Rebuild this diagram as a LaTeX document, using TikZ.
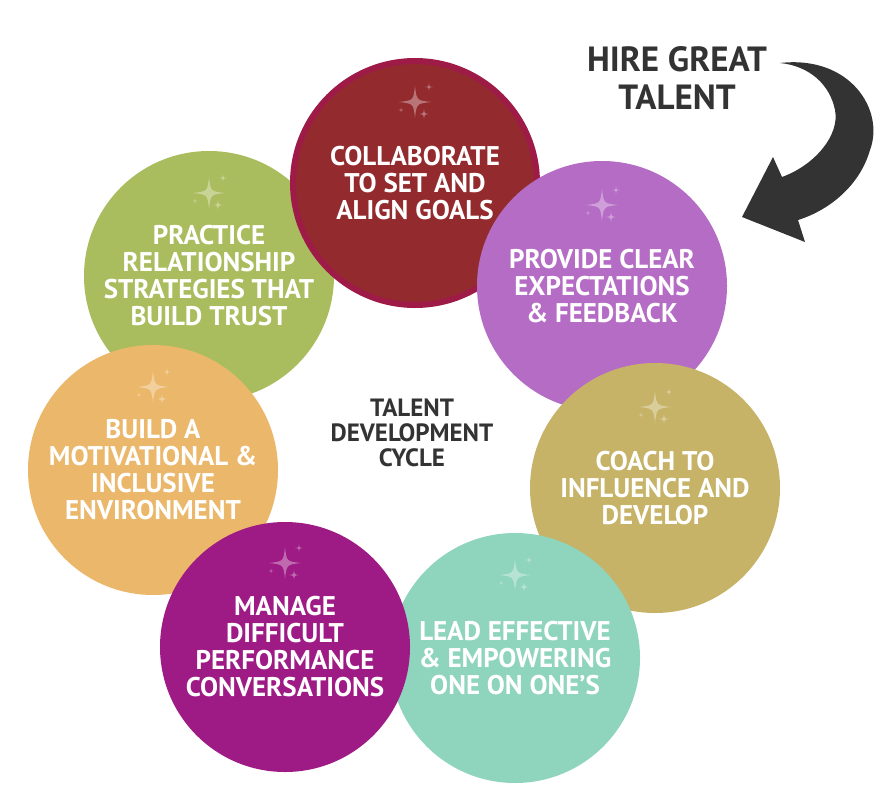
\documentclass[tikz,border=0pt]{standalone}
\usepackage{fontspec}
\setmainfont{PT Sans}
\usetikzlibrary{positioning}

\definecolor{practicegreen}{HTML}{A9BD5E}
\definecolor{collabred}{HTML}{932B2E}
\definecolor{collabrim}{HTML}{9E1B48}
\definecolor{providepurple}{HTML}{B56CC5}
\definecolor{coachgold}{HTML}{C6B367}
\definecolor{leadmint}{HTML}{8FD4BC}
\definecolor{managemagenta}{HTML}{9E1A85}
\definecolor{buildorange}{HTML}{EBB76B}
\definecolor{inkgray}{HTML}{333333}

% one four-point star: x, y, half size
\newcommand\glint[3]{\fill[white,opacity=.35,shift={(#1,#2)},scale=#3]
  (0,-1) .. controls (0.1,-0.1) .. (1,0) .. controls (0.1,0.1) .. (0,1)
  .. controls (-0.1,0.1) .. (-1,0) .. controls (-0.1,-0.1) .. cycle;}

\tikzset{
  bubble/.style={circle, minimum size=250pt, inner sep=0pt, align=center,
    text=white, font=\fontsize{27}{27}\selectfont\bfseries},
  sparkle/.pic={\glint{0}{0}{16} \glint{14}{-15}{4} \glint{9}{12}{5} \glint{-14}{8}{2.5}},
  darktext/.style={align=center, text=inkgray}
}

\begin{document}
\begin{tikzpicture}[x=1pt,y=-1pt]
\useasboundingbox (0,0) rectangle (896,808);

		% Practice
		\node[bubble,fill=practicegreen] (practice) at (209,276) {PRACTICE\\RELATIONSHIP\\STRATEGIES THAT\\BUILD TRUST};
		\pic at ([yshift=83pt]practice.center) {sparkle};

		% Collaborate
		\node[bubble,fill=collabred,draw=collabrim,line width=6pt,minimum size=244pt] (collab) at (415,183) {COLLABORATE\\TO SET AND\\ALIGN GOALS};
		\pic at ([yshift=81pt]collab.center) {sparkle};

		% Provide
		\node[bubble,fill=providepurple] (provide) at (602,286) {PROVIDE CLEAR\\EXPECTATIONS\\\& FEEDBACK};
		\pic at ([yshift=81pt]provide.center) {sparkle};

		% Coach
		\node[bubble,fill=coachgold] (coach) at (655,488) {COACH TO\\INFLUENCE AND\\DEVELOP};
		\pic at ([yshift=81pt]coach.center) {sparkle};

		% Lead
		\node[bubble,fill=leadmint] (lead) at (515,658) {LEAD EFFECTIVE\\\& EMPOWERING\\ONE ON ONE’S};
		\pic at ([yshift=83pt]lead.center) {sparkle};

		% Build
		\node[bubble,fill=buildorange] (build) at (153,470) {BUILD A\\MOTIVATIONAL \&\\INCLUSIVE\\ENVIRONMENT};
		\pic at ([yshift=83pt]build.center) {sparkle};

		% Manage
		\node[bubble,fill=managemagenta] (manage) at (285,647) {MANAGE\\DIFFICULT\\PERFORMANCE\\CONVERSATIONS};
		\pic at ([yshift=84pt]manage.center) {sparkle};

		% centre title
		\node[darktext,font=\fontsize{25}{25}\selectfont\bfseries] (cycle) at (412,433) {TALENT\\DEVELOPMENT\\CYCLE};

		% Hire arrow
		\node[darktext,font=\fontsize{35}{38}\selectfont\bfseries] (hire) at (677,78) {HIRE GREAT\\TALENT};
		\fill[inkgray] (780,63) .. controls (850,55) and (885,110) .. (870,150)
		  .. controls (860,185) and (830,210) .. (798,220) -- (805,242) -- (742,217) -- (773,157) -- (782,177)
		  .. controls (815,165) and (840,135) .. (835,110) .. controls (830,85) and (810,66) .. (780,63) -- cycle;
\end{tikzpicture}
\end{document}
